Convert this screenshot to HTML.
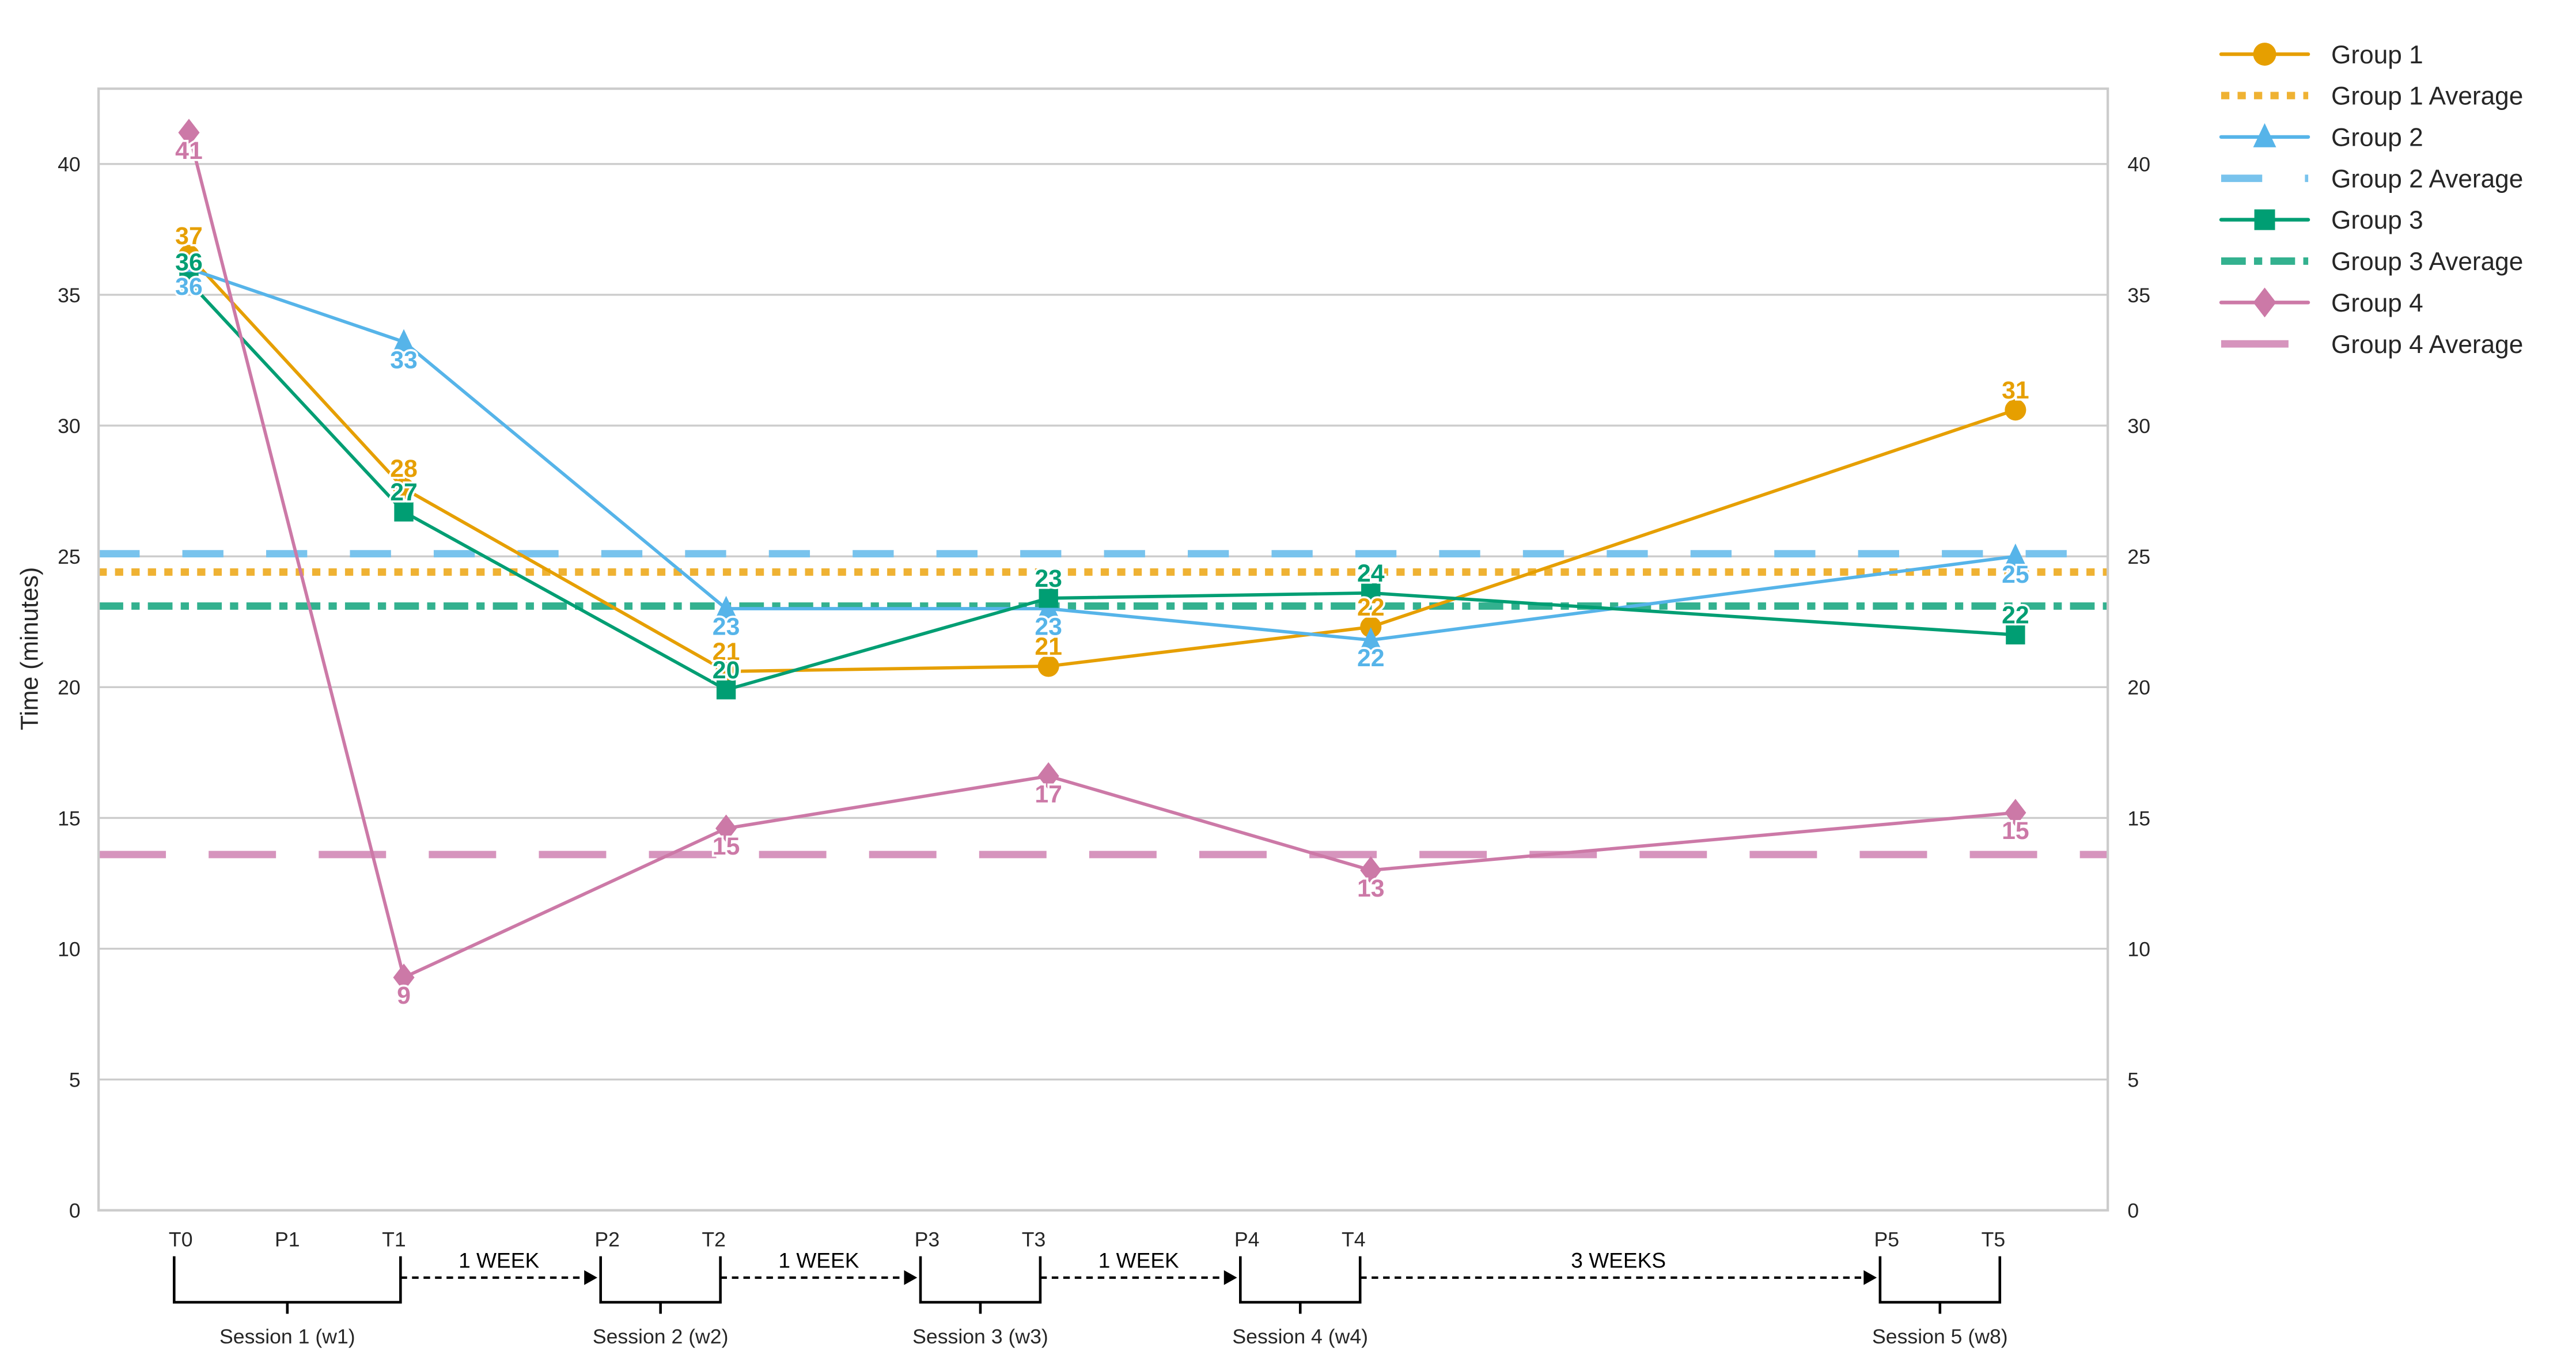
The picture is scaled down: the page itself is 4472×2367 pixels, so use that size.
<!DOCTYPE html>
<html><head><meta charset="utf-8"><style>
html,body{margin:0;padding:0;background:#fff;}
svg{display:block;font-family:"Liberation Sans",Arial,sans-serif;}
</style></head><body>
<svg id="chart" width="4472" height="2367" viewBox="0 0 1568 830" preserveAspectRatio="none" xmlns="http://www.w3.org/2000/svg">
<g id="grid"></g>
<g id="avg"></g>
<g id="series"></g>
<g id="axes"></g>
<g id="legend"></g>
<g id="annot"></g>
</svg>
<script>
const yTicks = [0,5,10,15,20,25,30,35,40];
const xLabels = ["T0","P1","T1","P2","T2","P3","T3","P4","T4","P5","T5"];
const xLabelUnits = [0,1,2,4,5,7,8,10,11,16,17];
const pointUnits = [0,2,5,8,11,17];
const groupNames = ["Group 1","Group 2","Group 3","Group 4"];
const g1 = [36.5,27.6,20.6,20.8,22.3,30.6];
const g2 = [36.0,33.2,23.0,23.0,21.8,25.0];
const g3 = [35.5,26.7,19.9,23.4,23.6,22.0];
const g4 = [41.2,8.9,14.6,16.6,13.0,15.2];
const averages = [24.4,25.1,23.1,13.6];
const sessions = ["Session 1 (w1)","Session 2 (w2)","Session 3 (w3)","Session 4 (w4)","Session 5 (w8)"];
const sessionSpans = [[0,2],[4,5],[7,8],[10,11],[16,17]];
const gapLabels = ["1 WEEK","1 WEEK","1 WEEK","3 WEEKS"];

const NS="http://www.w3.org/2000/svg";
const L=60,R=1283,T=54,B=737,YMAX=42.88;
const y=v=>B-(v/YMAX)*(B-T);
const xp=u=>115+u*65.4;
const xl=u=>110+u*64.9;
function mk(parent,tag,attrs,text){const e=document.createElementNS(NS,tag);for(const k in attrs)e.setAttribute(k,attrs[k]);if(text!==undefined)e.textContent=text;parent.appendChild(e);return e;}
const colors=["#E69F00","#56B4E9","#009E73","#CC79A7"];
const avgColors=["#EFB233","#78C3ED","#33B18F","#D694BD"];
const dashes=["5,5","25,26","15,5,5,5","41,26"];
const series=[g1,g2,g3,g4];
const above=[true,false,true,false];

const grid=document.getElementById('grid');
yTicks.forEach(t=>{
  const l=mk(grid,'line',{x1:L,x2:R,y1:y(t),y2:y(t),stroke:'#cccccc','stroke-width':1.2});
  
  
});
const axes=document.getElementById('axes');
const frame=mk(axes,'rect',{x:L,y:T,width:R-L,height:B-T,fill:'none',stroke:'#cccccc','stroke-width':1.5});


yTicks.forEach(t=>{
  const a=mk(axes,'text',{x:49,y:y(t)+4.5,'text-anchor':'end','font-size':12.5,fill:'#262626'},String(t));
  
  
  const b=mk(axes,'text',{x:1295,y:y(t)+4.5,'text-anchor':'start','font-size':12.5,fill:'#262626'},String(t));
  
  
});
const yt=mk(axes,'text',{x:0,y:0,transform:'translate(23,395) rotate(-90)','text-anchor':'middle','font-size':15,fill:'#262626'},'Time (minutes)');


xLabels.forEach((s,i)=>{
  const t=mk(axes,'text',{x:xl(xLabelUnits[i]),y:759,'text-anchor':'middle','font-size':12.5,fill:'#262626'},s);
  
  
});

const avg=document.getElementById('avg');
averages.forEach((v,i)=>{
  const l=mk(avg,'line',{x1:L,x2:R,y1:y(v),y2:y(v),stroke:avgColors[i],'stroke-width':4.5,'stroke-dasharray':dashes[i]});
  
  
});

function marker(g,i,cx,cy,s){
  let e;
  if(i===0)e=mk(g,'circle',{cx:cx,cy:cy,r:s*0.5,fill:colors[i]});
  else if(i===1)e=mk(g,'polygon',{points:`${cx},${cy-s*0.6} ${cx-s*0.5},${cy+s*0.45} ${cx+s*0.5},${cy+s*0.45}`,fill:colors[i]});
  else if(i===2)e=mk(g,'rect',{x:cx-s*0.45,y:cy-s*0.45,width:s*0.9,height:s*0.9,fill:colors[i]});
  else e=mk(g,'polygon',{points:`${cx},${cy-s*0.65} ${cx+s*0.5},${cy} ${cx},${cy+s*0.65} ${cx-s*0.5},${cy}`,fill:colors[i]});
  return e;
}
const sg=document.getElementById('series');
series.forEach((vals,i)=>{
  const g=mk(sg,'g',{});
  
  
  const pts=vals.map((v,j)=>xp(pointUnits[j])+','+y(v)).join(' ');
  const pl=mk(g,'polyline',{points:pts,fill:'none',stroke:colors[i],'stroke-width':2});
  
  
  vals.forEach((v,j)=>{
    const m=marker(g,i,xp(pointUnits[j]),y(v),13);
    
    
  });
});
series.forEach((vals,i)=>{
  vals.forEach((v,j)=>{
    const ty=above[i]?y(v)-7:y(v)+16;
    const t=mk(sg,'text',{x:xp(pointUnits[j]),y:ty,'text-anchor':'middle','font-size':15,'font-weight':'bold',fill:colors[i],stroke:'#fff','stroke-width':2.5,'paint-order':'stroke'},String(Math.round(v)));
    
    
  });
});

const lg=document.getElementById('legend');
for(let i=0;i<8;i++){
  const gi=Math.floor(i/2),isAvg=i%2===1,ly=33+i*25.2;
  const row=mk(lg,'g',{});
  
  
  if(isAvg){mk(row,'line',{x1:1352,x2:1405,y1:ly,y2:ly,stroke:avgColors[gi],'stroke-width':4.5,'stroke-dasharray':dashes[gi]});}
  else{mk(row,'line',{x1:1352,x2:1405,y1:ly,y2:ly,stroke:colors[gi],'stroke-width':2.2,'stroke-linecap':'round'});marker(row,gi,1378.5,ly,14);}
  mk(row,'text',{x:1419,y:ly+5.5,'font-size':15.5,fill:'#262626'},groupNames[gi]+(isAvg?' Average':''));
}

const an=document.getElementById('annot');
sessionSpans.forEach((sp,i)=>{
  const a=xl(sp[0])-4,b=xl(sp[1])+4,c=(a+b)/2;
  const g=mk(an,'g',{});
  
  
  mk(g,'path',{d:`M${a},765 V793 H${b} V765 M${c},793 V800`,fill:'none',stroke:'#000','stroke-width':1.6});
  mk(g,'text',{x:c,y:818,'text-anchor':'middle','font-size':12.5,fill:'#262626'},sessions[i]);
});
for(let i=0;i<4;i++){
  const a=xl(sessionSpans[i][1])+4,b=xl(sessionSpans[i+1][0])-6,c=(a+b)/2;
  const g=mk(an,'g',{});
  
  
  mk(g,'line',{x1:a,x2:b-6,y1:778,y2:778,stroke:'#000','stroke-width':1.5,'stroke-dasharray':'4,3'});
  mk(g,'polygon',{points:`${b},778 ${b-8},773.5 ${b-8},782.5`,fill:'#000'});
  mk(g,'text',{x:c,y:772,'text-anchor':'middle','font-size':13,fill:'#000'},gapLabels[i]);
}
</script>
</body></html>
